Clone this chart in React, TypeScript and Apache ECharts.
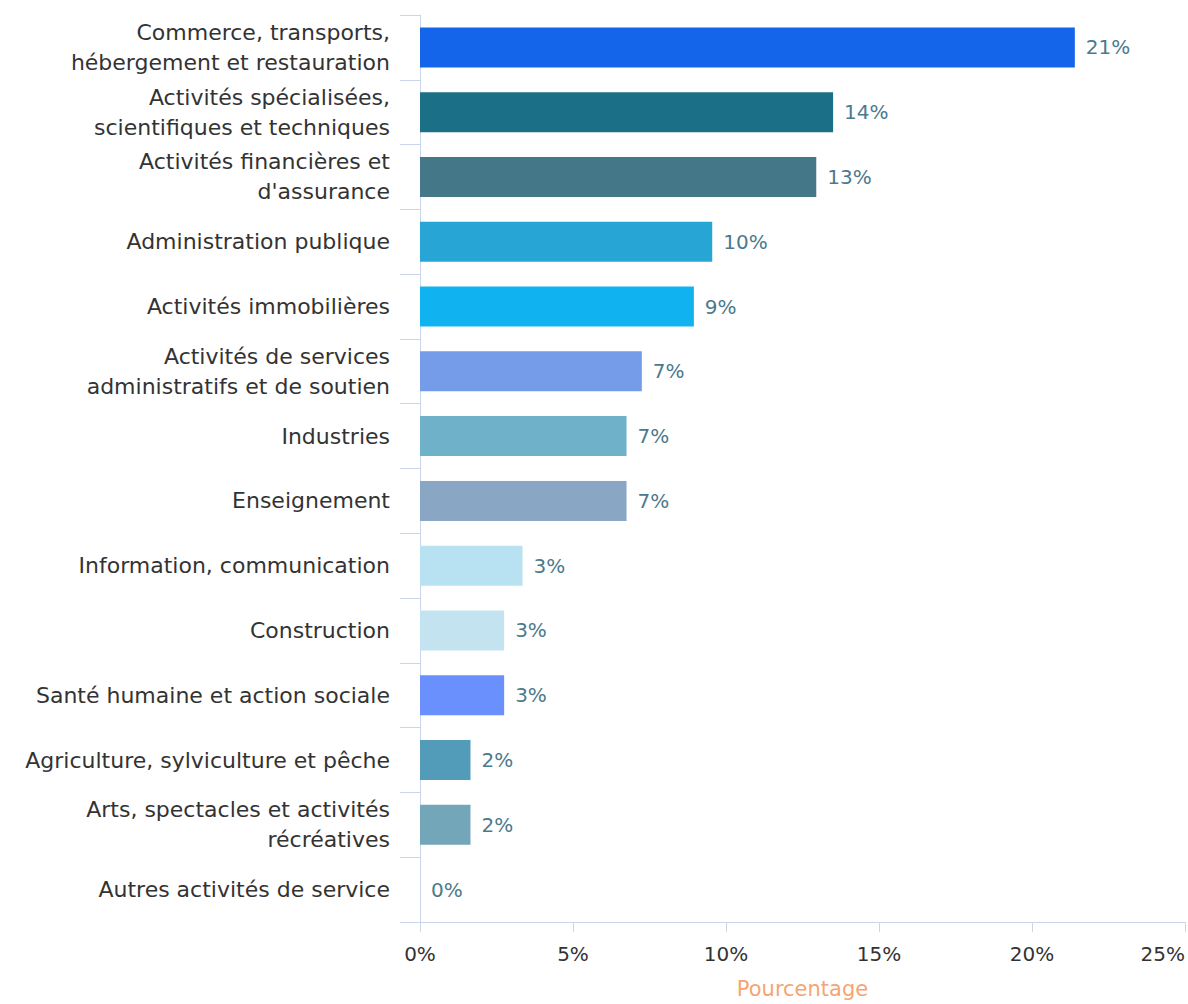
import React, { useEffect, useRef } from "react";
import * as echarts from "echarts";

const categories = [
  "Commerce, transports,\nhébergement et restauration",
  "Activités spécialisées,\nscientifiques et techniques",
  "Activités financières et\nd'assurance",
  "Administration publique",
  "Activités immobilières",
  "Activités de services\nadministratifs et de soutien",
  "Industries",
  "Enseignement",
  "Information, communication",
  "Construction",
  "Santé humaine et action sociale",
  "Agriculture, sylviculture et pêche",
  "Arts, spectacles et activités\nrécréatives",
  "Autres activités de service",
];

const values = [21.4, 13.5, 12.95, 9.55, 8.95, 7.25, 6.75, 6.75, 3.35, 2.75, 2.75, 1.65, 1.65, 0];

const barColors = [
  "#1565ea",
  "#1b7087",
  "#447788",
  "#27a6d6",
  "#10b3f0",
  "#759ce9",
  "#70b1ca",
  "#89a7c5",
  "#b8e2f2",
  "#c4e3f0",
  "#6990fd",
  "#529cb9",
  "#73a6b8",
  "#73a6b8",
];

const xTicks = { min: 0, max: 25, interval: 5 };
const axisName = "Pourcentage";

const FONT = "'DejaVu Sans', sans-serif";

export default function App() {
  const ref = useRef<HTMLDivElement>(null);
  useEffect(() => {
    if (!ref.current) return;
    const chart = echarts.init(ref.current, undefined, { renderer: "svg" });
    chart.setOption({
      animation: false,
      backgroundColor: "#ffffff",
      textStyle: { fontFamily: FONT },
      grid: { left: 420, right: 2, top: 15, bottom: 81, containLabel: false },
      xAxis: {
        type: "value",
        min: xTicks.min,
        max: xTicks.max,
        interval: xTicks.interval,
        name: axisName,
        nameLocation: "middle",
        nameGap: 56,
        nameTextStyle: { color: "#f5a572", fontSize: 21, fontFamily: FONT },
        axisLine: { show: true, lineStyle: { color: "#ccd6eb", width: 1 } },
        axisTick: { show: true, length: 10, lineStyle: { color: "#ccd6eb" } },
        splitLine: { show: false },
        axisLabel: {
          formatter: "{value}%",
          color: "#333333",
          fontSize: 20,
          fontFamily: FONT,
          margin: 22,
          alignMaxLabel: "right",
        },
      },
      yAxis: {
        type: "category",
        data: categories,
        inverse: true,
        axisLine: { show: true, lineStyle: { color: "#ccd6eb", width: 1 } },
        axisTick: { show: true, length: 20, lineStyle: { color: "#ccd6eb" } },
        axisLabel: {
          interval: 0,
          hideOverlap: false,
          color: "#333333",
          fontSize: 22,
          lineHeight: 30,
          fontFamily: FONT,
          margin: 30,
          align: "right",
          padding: [6, 0, 0, 0],
        },
      },
      series: [
        {
          type: "bar",
          barWidth: 40,
          data: values.map((v, i) => ({ value: v, itemStyle: { color: barColors[i] } })),
          label: {
            show: true,
            position: "right",
            distance: 11,
            color: "#4b7a8c",
            fontSize: 20,
            fontFamily: FONT,
            formatter: (p: any) => Math.round(p.value) + "%",
          },
        },
      ],
    });
    return () => chart.dispose();
  }, []);
  return (
    <div
      ref={ref}
      style={{ position: "fixed", left: 0, top: 0, width: 1188, height: 1004 }}
    />
  );
}
